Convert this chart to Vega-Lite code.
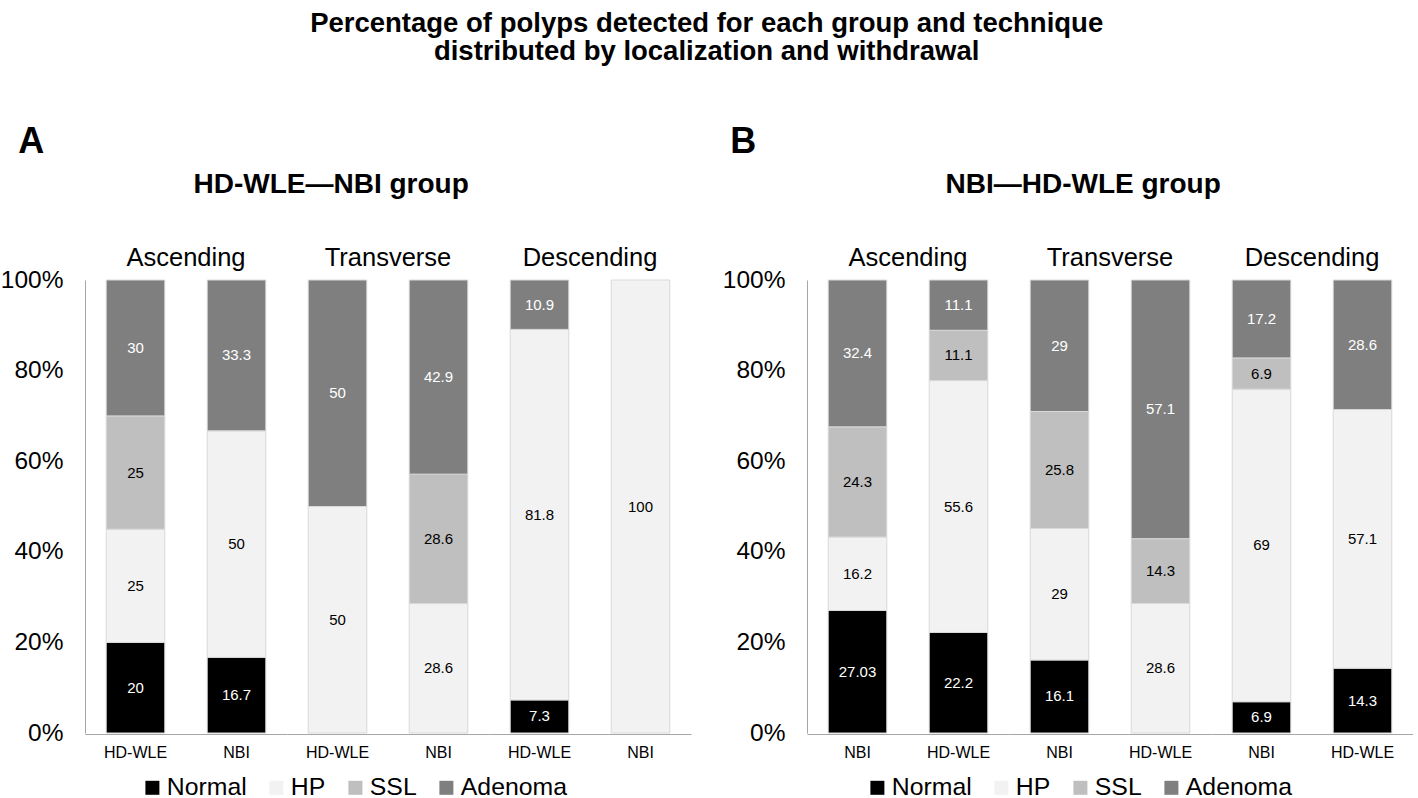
{
  "$schema": "https://vega.github.io/schema/vega-lite/v6.json",
  "padding": {"left": 0, "top": 9, "right": 0, "bottom": 0},
  "background": "white",
  "title": {
    "text": ["Percentage of polyps detected for each group and technique", "distributed by localization and withdrawal"],
    "fontSize": 27.5, "fontWeight": "bold", "lineHeight": 28, "anchor": "middle", "offset": 59, "color": "black"
  },
  "datasets": {
    "classes": [
      {"cls": "Normal", "rank": 1},
      {"cls": "HP", "rank": 2},
      {"cls": "SSL", "rank": 3},
      {"cls": "Adenoma", "rank": 4}
    ],
    "A": [
      {"loc": "Ascending", "tech": "HD-WLE", "cls": "Normal", "v": 20},
      {"loc": "Ascending", "tech": "HD-WLE", "cls": "HP", "v": 25},
      {"loc": "Ascending", "tech": "HD-WLE", "cls": "SSL", "v": 25},
      {"loc": "Ascending", "tech": "HD-WLE", "cls": "Adenoma", "v": 30},
      {"loc": "Ascending", "tech": "NBI", "cls": "Normal", "v": 16.7},
      {"loc": "Ascending", "tech": "NBI", "cls": "HP", "v": 50},
      {"loc": "Ascending", "tech": "NBI", "cls": "Adenoma", "v": 33.3},
      {"loc": "Transverse", "tech": "HD-WLE", "cls": "HP", "v": 50},
      {"loc": "Transverse", "tech": "HD-WLE", "cls": "Adenoma", "v": 50},
      {"loc": "Transverse", "tech": "NBI", "cls": "HP", "v": 28.6},
      {"loc": "Transverse", "tech": "NBI", "cls": "SSL", "v": 28.6},
      {"loc": "Transverse", "tech": "NBI", "cls": "Adenoma", "v": 42.9},
      {"loc": "Descending", "tech": "HD-WLE", "cls": "Normal", "v": 7.3},
      {"loc": "Descending", "tech": "HD-WLE", "cls": "HP", "v": 81.8},
      {"loc": "Descending", "tech": "HD-WLE", "cls": "Adenoma", "v": 10.9},
      {"loc": "Descending", "tech": "NBI", "cls": "HP", "v": 100}
    ],
    "B": [
      {"loc": "Ascending", "tech": "NBI", "cls": "Normal", "v": 27.03},
      {"loc": "Ascending", "tech": "NBI", "cls": "HP", "v": 16.2},
      {"loc": "Ascending", "tech": "NBI", "cls": "SSL", "v": 24.3},
      {"loc": "Ascending", "tech": "NBI", "cls": "Adenoma", "v": 32.4},
      {"loc": "Ascending", "tech": "HD-WLE", "cls": "Normal", "v": 22.2},
      {"loc": "Ascending", "tech": "HD-WLE", "cls": "HP", "v": 55.6},
      {"loc": "Ascending", "tech": "HD-WLE", "cls": "SSL", "v": 11.1},
      {"loc": "Ascending", "tech": "HD-WLE", "cls": "Adenoma", "v": 11.1},
      {"loc": "Transverse", "tech": "NBI", "cls": "Normal", "v": 16.1},
      {"loc": "Transverse", "tech": "NBI", "cls": "HP", "v": 29},
      {"loc": "Transverse", "tech": "NBI", "cls": "SSL", "v": 25.8},
      {"loc": "Transverse", "tech": "NBI", "cls": "Adenoma", "v": 29},
      {"loc": "Transverse", "tech": "HD-WLE", "cls": "HP", "v": 28.6},
      {"loc": "Transverse", "tech": "HD-WLE", "cls": "SSL", "v": 14.3},
      {"loc": "Transverse", "tech": "HD-WLE", "cls": "Adenoma", "v": 57.1},
      {"loc": "Descending", "tech": "NBI", "cls": "Normal", "v": 6.9},
      {"loc": "Descending", "tech": "NBI", "cls": "HP", "v": 69},
      {"loc": "Descending", "tech": "NBI", "cls": "SSL", "v": 6.9},
      {"loc": "Descending", "tech": "NBI", "cls": "Adenoma", "v": 17.2},
      {"loc": "Descending", "tech": "HD-WLE", "cls": "Normal", "v": 14.3},
      {"loc": "Descending", "tech": "HD-WLE", "cls": "HP", "v": 57.1},
      {"loc": "Descending", "tech": "HD-WLE", "cls": "Adenoma", "v": 28.6}
    ]
  },
  "hconcat": [
    {
      "title": {"text": "A", "fontSize": 36, "fontWeight": "bold", "anchor": "start", "frame": "bounds", "dx": 18, "offset": 9, "color": "black"},
      "data": {"name": "A"},
      "transform": [{"lookup": "cls", "from": {"data": {"name": "classes"}, "key": "cls", "fields": ["rank"]}}],
      "facet": {
        "column": {
          "field": "loc", "type": "nominal", "sort": ["Ascending", "Transverse", "Descending"],
          "header": {"title": null, "labelFontSize": 25.5, "labelPadding": 8, "labelColor": "black"}
        }
      },
      "spacing": 0,
      "spec": {
        "width": 202,
        "height": 453,
        "encoding": {
          "x": {
            "field": "tech", "type": "nominal", "sort": ["HD-WLE", "NBI"],
            "scale": {"paddingInner": 0.42, "paddingOuter": 0.21},
            "axis": {"title": null, "labelAngle": 0, "labelFontSize": 16, "labelPadding": 10, "ticks": false, "domainColor": "#a6a6a6", "labelColor": "black"}
          },
          "order": {"field": "rank", "type": "quantitative"}
        },
        "layer": [
          {
            "mark": {"type": "bar", "stroke": "#d9d9d9", "strokeWidth": 1},
            "encoding": {
              "y": {
                "field": "v", "type": "quantitative", "stack": "normalize",
                "axis": {
                  "title": "HD-WLE—NBI group", "titleAngle": 0, "titleAlign": "left", "titleBaseline": "alphabetic",
                  "titleX": 108, "titleY": -88, "titleFontSize": 28, "titleFontWeight": "bold", "titleColor": "black",
                  "format": ".0%", "values": [0, 0.2, 0.4, 0.6, 0.8, 1], "labelFontSize": 24.5, "labelPadding": 22,
                  "ticks": false, "grid": false, "domainColor": "#a6a6a6", "labelColor": "black"
                }
              },
              "color": {
                "field": "cls", "type": "nominal", "sort": ["Normal", "HP", "SSL", "Adenoma"],
                "scale": {"domain": ["Normal", "HP", "SSL", "Adenoma"], "range": ["#000000", "#f2f2f2", "#bfbfbf", "#7f7f7f"]},
                "legend": {"title": null, "orient": "none", "legendX": 55, "legendY": 495, "direction": "horizontal", "symbolType": "square", "symbolSize": 196, "symbolStrokeWidth": 0, "labelFontSize": 24.8, "labelOffset": 2, "columnPadding": 17, "labelColor": "black"}
              }
            }
          },
          {
            "mark": {"type": "text", "fontSize": 15},
            "encoding": {
              "y": {"field": "v", "type": "quantitative", "stack": "normalize", "bandPosition": 0.5},
              "text": {"field": "v", "type": "nominal"},
              "detail": {"field": "cls", "type": "nominal"},
              "color": {"condition": {"test": "datum.cls === 'Normal' || datum.cls === 'Adenoma'", "value": "#ffffff"}, "value": "#000000"}
            }
          }
        ]
      }
    },
    {
      "title": {"text": "B", "fontSize": 36, "fontWeight": "bold", "anchor": "start", "frame": "bounds", "dx": 8, "offset": 9, "color": "black"},
      "data": {"name": "B"},
      "transform": [{"lookup": "cls", "from": {"data": {"name": "classes"}, "key": "cls", "fields": ["rank"]}}],
      "facet": {
        "column": {
          "field": "loc", "type": "nominal", "sort": ["Ascending", "Transverse", "Descending"],
          "header": {"title": null, "labelFontSize": 25.5, "labelPadding": 8, "labelColor": "black"}
        }
      },
      "spacing": 0,
      "spec": {
        "width": 202,
        "height": 453,
        "encoding": {
          "x": {
            "field": "tech", "type": "nominal", "sort": ["NBI", "HD-WLE"],
            "scale": {"paddingInner": 0.42, "paddingOuter": 0.21},
            "axis": {"title": null, "labelAngle": 0, "labelFontSize": 16, "labelPadding": 10, "ticks": false, "domainColor": "#a6a6a6", "labelColor": "black"}
          },
          "order": {"field": "rank", "type": "quantitative"}
        },
        "layer": [
          {
            "mark": {"type": "bar", "stroke": "#d9d9d9", "strokeWidth": 1},
            "encoding": {
              "y": {
                "field": "v", "type": "quantitative", "stack": "normalize",
                "axis": {
                  "title": "NBI—HD-WLE group", "titleAngle": 0, "titleAlign": "left", "titleBaseline": "alphabetic",
                  "titleX": 138, "titleY": -88, "titleFontSize": 28, "titleFontWeight": "bold", "titleColor": "black",
                  "format": ".0%", "values": [0, 0.2, 0.4, 0.6, 0.8, 1], "labelFontSize": 24.5, "labelPadding": 22,
                  "ticks": false, "grid": false, "domainColor": "#a6a6a6", "labelColor": "black"
                }
              },
              "color": {
                "field": "cls", "type": "nominal", "sort": ["Normal", "HP", "SSL", "Adenoma"],
                "scale": {"domain": ["Normal", "HP", "SSL", "Adenoma"], "range": ["#000000", "#f2f2f2", "#bfbfbf", "#7f7f7f"]},
                "legend": {"title": null, "orient": "none", "legendX": 58, "legendY": 495, "direction": "horizontal", "symbolType": "square", "symbolSize": 196, "symbolStrokeWidth": 0, "labelFontSize": 24.8, "labelOffset": 2, "columnPadding": 17, "labelColor": "black"}
              }
            }
          },
          {
            "mark": {"type": "text", "fontSize": 15},
            "encoding": {
              "y": {"field": "v", "type": "quantitative", "stack": "normalize", "bandPosition": 0.5},
              "text": {"field": "v", "type": "nominal"},
              "detail": {"field": "cls", "type": "nominal"},
              "color": {"condition": {"test": "datum.cls === 'Normal' || datum.cls === 'Adenoma'", "value": "#ffffff"}, "value": "#000000"}
            }
          }
        ]
      }
    }
  ],
  "spacing": 31,
  "resolve": {"scale": {"color": "independent"}, "legend": {"color": "independent"}},
  "config": {"font": "Liberation Sans", "view": {"stroke": null}}
}
